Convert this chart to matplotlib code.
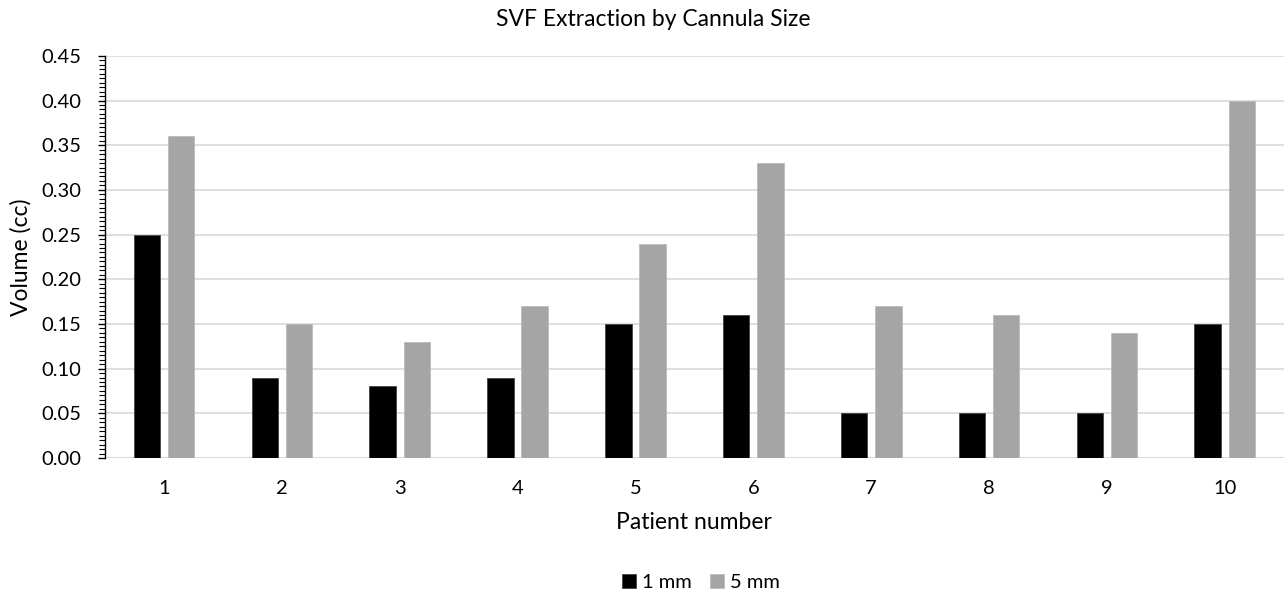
import numpy as np
import matplotlib.pyplot as plt
from matplotlib.ticker import MultipleLocator

patients = ['1', '2', '3', '4', '5', '6', '7', '8', '9', '10']
vol_1mm = [0.25, 0.09, 0.08, 0.09, 0.15, 0.16, 0.05, 0.05, 0.05, 0.15]
vol_5mm = [0.36, 0.15, 0.13, 0.17, 0.24, 0.33, 0.17, 0.16, 0.14, 0.40]

plt.rcParams['font.family'] = ['Lato', 'DejaVu Sans']

fig = plt.figure(figsize=(12.86, 5.94), dpi=100)
ax = fig.add_axes([0.0817, 0.229, 0.9165, 0.677])

x = np.arange(len(patients))
w = 0.225
ax.bar(x - 0.145, vol_1mm, w, color='black', edgecolor='#444444', linewidth=0.6, label='1 mm', zorder=3)
ax.bar(x + 0.145, vol_5mm, w, color='#A5A5A5', edgecolor='#BBBBBB', linewidth=0.6, label='5 mm', zorder=3)

ax.set_xlim(-0.5, len(patients) - 0.5)
ax.set_ylim(0, 0.45)
ax.yaxis.set_major_locator(MultipleLocator(0.05))
ax.yaxis.set_minor_locator(MultipleLocator(0.005))
ax.set_yticklabels([f'{v:.2f}' for v in ax.get_yticks()])
ax.set_xticks(x)
ax.set_xticklabels(patients)

ax.grid(axis='y', color='#D9D9D9', linewidth=1.2, zorder=0)
for s in ['top', 'right', 'bottom']:
    ax.spines[s].set_visible(False)
ax.axhline(0, color='#D9D9D9', linewidth=1.4, zorder=1)
ax.spines['left'].set_color('black')
ax.spines['left'].set_linewidth(1.0)

ax.tick_params(axis='y', which='major', length=5, width=1, pad=12, labelsize=14.5, colors='black')
ax.tick_params(axis='y', which='minor', length=4, width=0.8)
ax.tick_params(axis='x', length=0, pad=16, labelsize=14.5)

ax.set_xlabel('Patient number', fontsize=16.5)
ax.xaxis.set_label_coords(0.5, -0.135)
ax.set_ylabel('Volume (cc)', fontsize=16.5)
ax.yaxis.set_label_coords(-0.062, 0.5)
fig.suptitle('SVF Extraction by Cannula Size', fontsize=16.5, y=0.985, x=0.508)

fig.legend(loc='center', bbox_to_anchor=(0.545, 0.02), ncol=2, frameon=False,
           fontsize=14.5, handlelength=0.7, handleheight=0.7, handletextpad=0.3,
           columnspacing=0.9)

fig.savefig('out.png', dpi=100)
